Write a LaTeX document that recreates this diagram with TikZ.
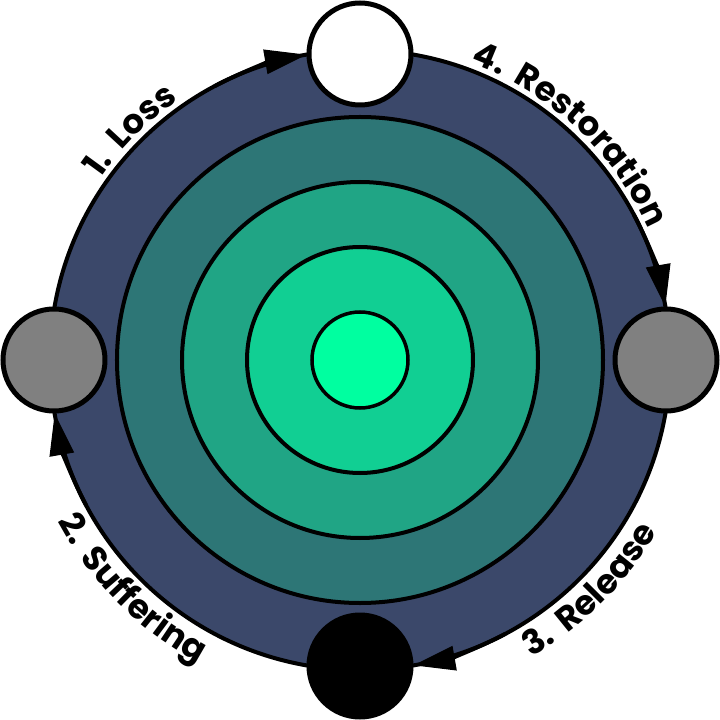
\documentclass[tikz,border=0pt]{standalone}
\usepackage{fontspec}
\newfontfamily\lblfont{Poppins}[LetterSpace=3,WordSpace=1.6]
\usetikzlibrary{arrows.meta,decorations.text}
\definecolor{cOuter}{HTML}{3B486A}
\definecolor{cRingA}{HTML}{2D7676}
\definecolor{cRingB}{HTML}{20A585}
\definecolor{cRingC}{HTML}{11CF93}
\definecolor{cCore}{HTML}{00FFA0}
\definecolor{cGray}{HTML}{808080}
\tikzset{
  ring/.style={draw=black, line width=4pt},
  stage/.style={circle, draw=black, line width=5pt, minimum size=102pt, inner sep=0pt},
  flow/.style={draw=black, line width=4pt, -{Triangle[length=42pt,width=24pt]}},
  lbl/.style={decorate, decoration={text along path, text align=center,
     text={|\lblfont\bfseries\fontsize{34}{40}\selectfont|#1}}}
}
\begin{document}
\begin{tikzpicture}[x=1pt,y=1pt]
\useasboundingbox (-360,-360) rectangle (360,360);
% rings
\draw[ring, fill=cOuter] (0,0) circle[radius=310];
\draw[ring, fill=cRingA] (0,0) circle[radius=243];
\draw[ring, fill=cRingB] (0,0) circle[radius=178];
\draw[ring, fill=cRingC] (0,0) circle[radius=113];
\draw[ring, line width=3.5pt, fill=cCore] (0,0) circle[radius=48];
% arrows along the ring
\draw[flow] (118:310) arc[start angle=118, end angle=99.9, radius=310];
\draw[flow] (28:310) arc[start angle=28, end angle=9.9, radius=310];
\draw[flow] (-62:310) arc[start angle=-62, end angle=-80.1, radius=310];
\draw[flow] (208:310) arc[start angle=208, end angle=189.9, radius=310];
% stage circles
\node[stage, fill=white] (top) at (0,306) {};
\node[stage, fill=cGray] (right) at (306,0) {};
\node[stage, fill=black] (bottom) at (0,-306) {};
\node[stage, fill=cGray] (left) at (-306,0) {};
% labels
\path[lbl={1. Loss}] (195:317) arc[start angle=195, end angle=75, radius=317];
\path[lbl={4. Restoration}] (107:317) arc[start angle=107, end angle=-13, radius=317];
\path[lbl={3. Release}] (-105:343) arc[start angle=-105, end angle=15, radius=343];
\path[lbl={2. Suffering}] (165:343) arc[start angle=165, end angle=285, radius=343];
\end{tikzpicture}
\end{document}
